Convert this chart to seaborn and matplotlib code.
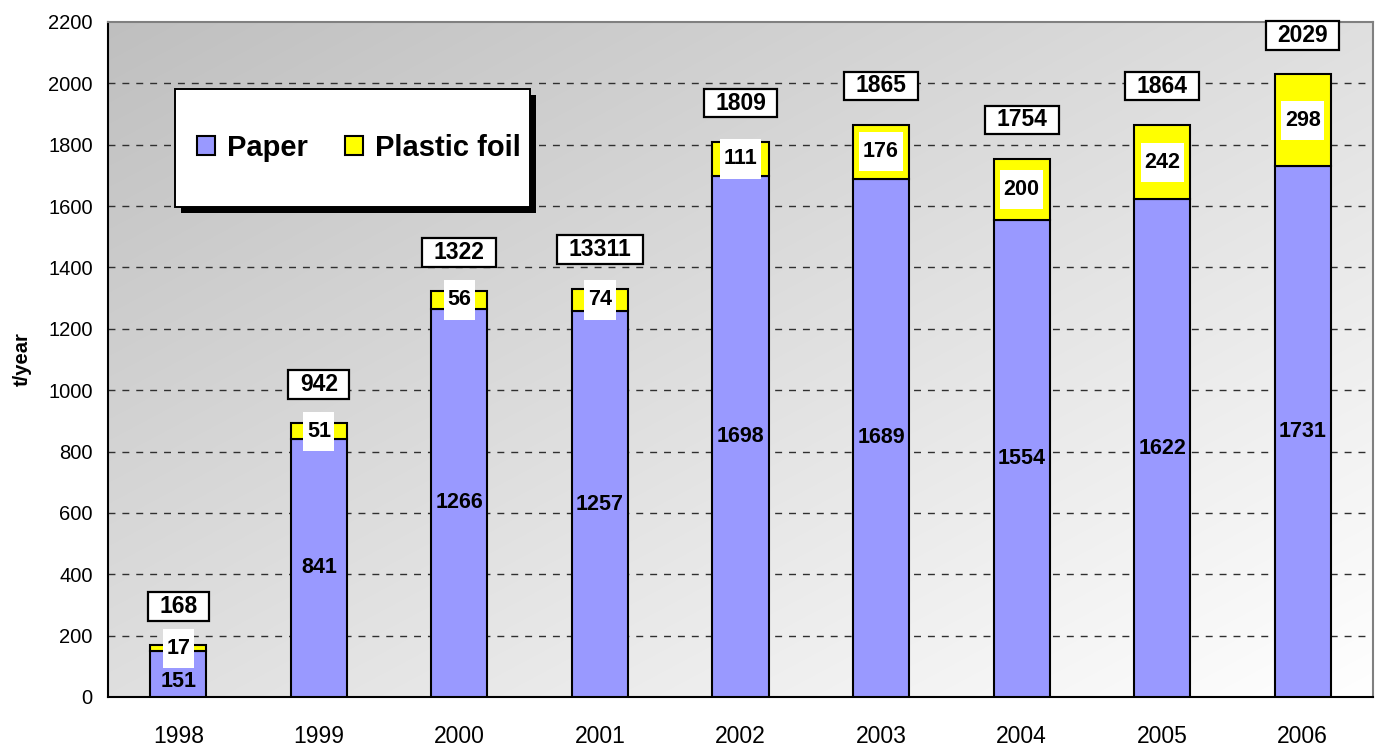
import numpy as np
import matplotlib
matplotlib.use("Agg")
import matplotlib.pyplot as plt
from matplotlib.patches import Rectangle
from matplotlib.path import Path
import seaborn as sns

years = ["1998", "1999", "2000", "2001", "2002", "2003", "2004", "2005", "2006"]
paper = [151, 841, 1266, 1257, 1698, 1689, 1554, 1622, 1731]
plastic = [17, 51, 56, 74, 111, 176, 200, 242, 298]
total_labels = ["168", "942", "1322", "13311", "1809", "1865", "1754", "1864", "2029"]
y_ticks = list(range(0, 2201, 200))

PAPER_C = "#9999FF"
PLASTIC_C = "#FFFF00"

sns.set_style("white")
plt.rcParams["font.family"] = ["Liberation Sans", "DejaVu Sans"]
plt.rcParams["text.color"] = "black"
plt.rcParams["axes.labelcolor"] = "black"
plt.rcParams["xtick.color"] = "black"
plt.rcParams["ytick.color"] = "black"

fig = plt.figure(figsize=(13.8, 7.47), dpi=100)
ax = fig.add_axes([108 / 1380, 1 - 697 / 747, 1265 / 1380, 675 / 747])

# gradient background
n = 200
gx, gy = np.meshgrid(np.linspace(0, 1, n), np.linspace(1, 0, n))
u = (gx + (1 - gy)) / 2
gray = 0.75 + 0.25 * u
ax.imshow(np.dstack([gray, gray, gray]), extent=(0, 1, 0, 1), transform=ax.transAxes,
          aspect="auto", zorder=0, interpolation="bilinear")

sns.barplot(x=years, y=paper, color=PAPER_C, saturation=1, edgecolor="black",
            linewidth=1.5, width=0.4, ax=ax, label="Paper", zorder=3)
sns.barplot(x=years, y=plastic, bottom=paper, color=PLASTIC_C, saturation=1,
            edgecolor="black", linewidth=1.5, width=0.4, ax=ax, label="Plastic foil", zorder=3)

ax.set_xlim(-0.5, len(years) - 0.5)
ax.set_ylim(0, 2200)
ax.set_yticks(y_ticks)
ax.set_yticklabels([str(t) for t in y_ticks], fontsize=14.5, color="black")
ax.set_xticks(np.arange(-0.5, len(years), 1))
ax.set_xticklabels([""] * (len(years) + 1))
ax.set_xticks(range(len(years)), minor=True)
ax.set_xticklabels(years, minor=True, fontsize=16.5, color="black")
ax.tick_params(axis="x", which="major", direction="out", length=7, width=1.5, color="black")
ax.tick_params(axis="x", which="minor", length=0, pad=20)
ax.tick_params(axis="y", direction="inout", length=10, width=1.5, color="black", pad=6)
ax.set_xlabel("")
ax.set_ylabel("t/year", fontsize=14.5, fontweight="bold", labelpad=12, color="black")

for t in y_ticks[1:-1]:
    ax.axhline(t, color="#303030", linewidth=1, linestyle=(0, (5, 5)), zorder=1)
ax.grid(False)

for side in ["left", "bottom"]:
    ax.spines[side].set_color("black")
    ax.spines[side].set_linewidth(1.5)
for side in ["top", "right"]:
    ax.spines[side].set_color("#808080")
    ax.spines[side].set_linewidth(1.5)


def padded_box(hpad, vpad):
    def box(x0, y0, width, height, mutation_size):
        px = hpad * mutation_size
        py = vpad * mutation_size
        xa, ya = x0 - px, y0 - py
        xb, yb = x0 + width + px, y0 + height + py
        return Path([(xa, ya), (xb, ya), (xb, yb), (xa, yb), (xa, ya)], closed=True)
    return box


for i in range(len(years)):
    p, q = paper[i], plastic[i]
    py_lab = p / 2 if p > 300 else p / 3
    ax.text(i, py_lab, str(p), ha="center", va="center", fontsize=15.5,
            fontweight="bold", zorder=5, color="black")
    ax.text(i, p + q / 2, str(q), ha="center", va="center", fontsize=15.5,
            fontweight="bold", zorder=5, color="black",
            bbox=dict(boxstyle=padded_box(0.17, 0.42), facecolor="white", edgecolor="none"))
    ax.annotate(total_labels[i], xy=(i, p + q), xytext=(0, 28), textcoords="offset points",
                ha="center", va="center", fontsize=16.5, fontweight="bold", zorder=6,
                color="black",
                bbox=dict(boxstyle=padded_box(0.5, 0.12), facecolor="white",
                          edgecolor="black", linewidth=1.6))

# legend frame with shadow
lx0, ly0, lw, lh = 0.053, 0.7259, 0.2806, 0.1748
ax.add_patch(Rectangle((lx0 + 0.0047, ly0 - 0.0089), lw, lh, transform=ax.transAxes,
                       facecolor="black", edgecolor="none", zorder=7))
ax.add_patch(Rectangle((lx0, ly0), lw, lh, transform=ax.transAxes,
                       facecolor="white", edgecolor="black", linewidth=1.4, zorder=7.5))
leg = ax.legend(loc="center", bbox_to_anchor=(lx0 + lw / 2 + 0.005, ly0 + lh / 2), ncol=2,
                frameon=False, prop={"weight": "bold", "size": 21},
                handlelength=0.62, handleheight=0.62, handletextpad=0.4,
                columnspacing=1.3)
for t in leg.get_texts():
    t.set_color("black")
leg.set_zorder(8)

fig.savefig("out.png", dpi=100)
